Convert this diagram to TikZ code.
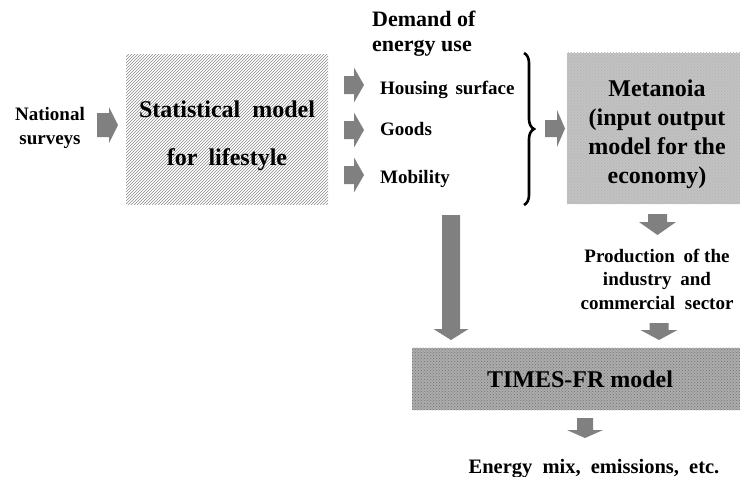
\documentclass[tikz,border=0pt]{standalone}
\usepackage{fontspec}
\setmainfont{Liberation Serif}
\usetikzlibrary{calc,patterns,decorations.pathreplacing}
\definecolor{arrowgray}{HTML}{808080}
\definecolor{metafill}{HTML}{C2C2C2}
\definecolor{timesfill}{HTML}{ACACAC}
\newcommand{\blockarr}[5]{%
  \coordinate (bh) at ($(#2)!#5!(#1)$);
  \fill[arrowgray] ($(#1)!#3!90:(#2)$) -- ($(bh)!#3!90:(#2)$) -- ($(bh)!#4!90:(#2)$) -- (#2)
    -- ($(bh)!#4!-90:(#2)$) -- ($(bh)!#3!-90:(#2)$) -- ($(#1)!#3!-90:(#2)$) -- cycle;}
\newcommand{\wsp}[1]{\hspace*{#1}}
\tikzset{
  smalltxt/.style={font=\bfseries\fontsize{19}{24}\selectfont, align=center, inner sep=0pt},
  itemtxt/.style={font=\bfseries\fontsize{19}{24}\selectfont, anchor=west, inner sep=0pt},
  bigbox/.style={font=\bfseries\fontsize{24}{29}\selectfont, align=center, inner sep=0pt},
}
\begin{document}
\begin{tikzpicture}[x=1pt,y=-1pt]
\clip (0,0) rectangle (740,477);
\fill[white] (0,0) rectangle (740,477);
% nodes
\node[smalltxt] (nat) at (50,128) {National\\surveys};
\node[minimum width=202pt, minimum height=150pt, inner sep=0pt,
      pattern=north east lines, pattern color=black!45] (stat) at (227,129) {};
\node[bigbox, font=\bfseries\fontsize{24}{48}\selectfont] (statT) at (227,136) {Statistical \wsp{6pt}model\\for \wsp{5pt}lifestyle};
\node[anchor=west, align=left, inner sep=0pt, font=\bfseries\fontsize{22}{25}\selectfont] (dem) at (372,34) {Demand of\\energy use};
\node[itemtxt] (hous) at (380,90) {Housing \wsp{3pt}surface};
\node[itemtxt] (goods) at (380,129) {Goods};
\node[itemtxt] (mob) at (380,179) {Mobility};
\node[minimum width=180pt, minimum height=151pt, inner sep=0pt, fill=metafill] (meta) at (657,128.5) {};
\fill[pattern=crosshatch dots, pattern color=black!30] (meta.south west) rectangle (meta.north east);
\node[bigbox] (metaT) at (657,134) {Metanoia\\(input output\\model for the\\economy)};
\node[smalltxt, font=\bfseries\fontsize{19}{23.5}\selectfont] (prod) at (657,279) {Production \wsp{4pt}of the\\industry \wsp{4pt}and\\commercial \wsp{5pt}sector};
\node[minimum width=336pt, minimum height=62pt, inner sep=0pt, fill=timesfill] (times) at (580,379) {};
\fill[pattern=crosshatch dots, pattern color=black!55] (times.south west) rectangle (times.north east);
\node[bigbox] (timesT) at (times.center) {TIMES-FR model};
\node[smalltxt, font=\bfseries\fontsize{20.5}{24}\selectfont] (emix) at (594,469) {Energy \wsp{5pt}mix, \wsp{5pt}emissions, \wsp{5pt}etc.};
% brace
\coordinate (bt) at (524,53);
\coordinate (bb) at (524,205);
\draw[decorate, decoration={brace, amplitude=10pt}, line width=2.6pt] (bt) -- (bb);
% block arrows
\coordinate (a0s) at (97,125);   \coordinate (a0e) at (118,125);
\coordinate (a1s) at (344,85);   \coordinate (a1e) at (364,85);
\coordinate (a2s) at (344,130);  \coordinate (a2e) at (364,130);
\coordinate (a3s) at (344,175);  \coordinate (a3e) at (364,175);
\coordinate (a4s) at (545,128.5);\coordinate (a4e) at (565,128.5);
\coordinate (a5s) at (451,215);  \coordinate (a5e) at (451,340);
\coordinate (a6s) at (657.5,214);\coordinate (a6e) at (657.5,235);
\coordinate (a7s) at (659,323);  \coordinate (a7e) at (659,340);
\coordinate (a8s) at (585,418);  \coordinate (a8e) at (585,438);
\blockarr{a0s}{a0e}{12pt}{18pt}{9pt}
\blockarr{a1s}{a1e}{9pt}{17.5pt}{10pt}
\blockarr{a2s}{a2e}{9pt}{17.5pt}{10pt}
\blockarr{a3s}{a3e}{9pt}{17.5pt}{10pt}
\blockarr{a4s}{a4e}{8.5pt}{18.5pt}{8pt}
\blockarr{a5s}{a5e}{9pt}{17.5pt}{11pt}
\blockarr{a6s}{a6e}{9.5pt}{18.5pt}{13pt}
\blockarr{a7s}{a7e}{9.5pt}{18.5pt}{10pt}
\blockarr{a8s}{a8e}{8pt}{18pt}{8pt}
\end{tikzpicture}
\end{document}
